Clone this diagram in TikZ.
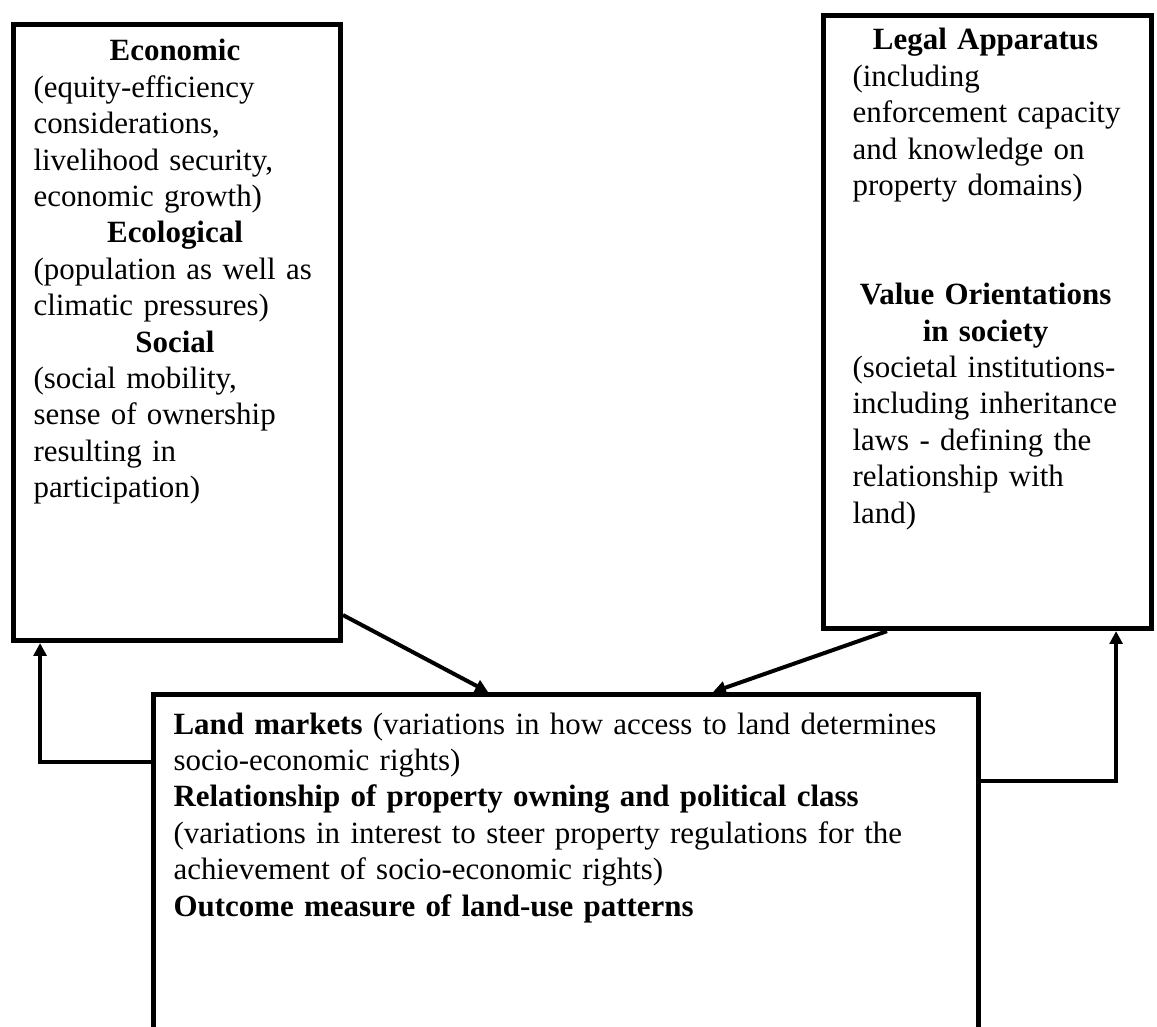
\documentclass[tikz,border=0pt]{standalone}
\usepackage{fontspec}
\setmainfont{Liberation Serif}
\usetikzlibrary{arrows.meta}

\newcommand{\boxhead}[2]{\makebox[#1]{\textbf{#2}}}

\tikzset{
  box/.style  = {draw, line width=1.9pt, inner sep=0pt, anchor=north west},
  txt/.style  = {anchor=base west, inner sep=0pt, text width=#1, align=left,
                 font=\fontsize{11.6}{13.65}\selectfont},
  link/.style = {line width=1.5pt, -{Triangle[length=4.8pt,width=4.8pt]}},
}

\begin{document}
\begin{tikzpicture}[x=0.375pt, y=-0.375pt]
  \path[use as bounding box, clip] (0,0) rectangle (1157,1026);
  \fill[white] (0,0) rectangle (1157,1026);

  \node[box, minimum width=122.6pt, minimum height=231pt]   (eco)   at (11,22)  {};
  \node[box, minimum width=123pt,   minimum height=229.9pt] (legal) at (821,13) {};
  \node[box, minimum width=309.4pt, minimum height=150pt]   (land)  at (151,692) {};

  \node[txt=130pt] (ecotxt) at (33,61) {%
    \boxhead{106.1pt}{Economic}\\
    (equity-efficiency\\
    considerations,\\
    livelihood security,\\
    economic growth)\\
    \boxhead{106.1pt}{Ecological}\\
    (population as well as\\
    climatic pressures)\\
    \boxhead{106.1pt}{Social}\\
    (social mobility,\\
    sense of ownership\\
    resulting in\\
    participation)};

  \node[txt=130pt] (legaltxt) at (852,50) {%
    \boxhead{99.75pt}{Legal Apparatus}\\
    (including\\
    enforcement capacity\\
    and knowledge on\\
    property domains)\\[2\baselineskip]
    \boxhead{99.75pt}{Value Orientations}\\
    \boxhead{99.75pt}{in society}\\
    (societal institutions-\\
    including inheritance\\
    laws - defining the\\
    relationship with\\
    land)};

  \node[txt=330pt] (landtxt) at (173,734) {%
    \textbf{Land markets} (variations in how access to land determines\\
    socio-economic rights)\\
    \textbf{Relationship of property owning and political class}\\
    (variations in interest to steer property regulations for the\\
    achievement of socio-economic rights)\\
    \textbf{Outcome measure of land-use patterns}};

  \draw[link] ([yshift=10.5pt]eco.south east)    -- ([xshift=126.4pt]land.north west);
  \draw[link] ([xshift=24.75pt]legal.south west) -- ([xshift=210.75pt]land.north west);
  \draw[link] ([yshift=-26.25pt]land.north west) -| ([xshift=10.9pt]eco.south west);
  \draw[link] ([yshift=-33.4pt]land.north east)  -| ([xshift=-14.25pt]legal.south east);
\end{tikzpicture}
\end{document}
